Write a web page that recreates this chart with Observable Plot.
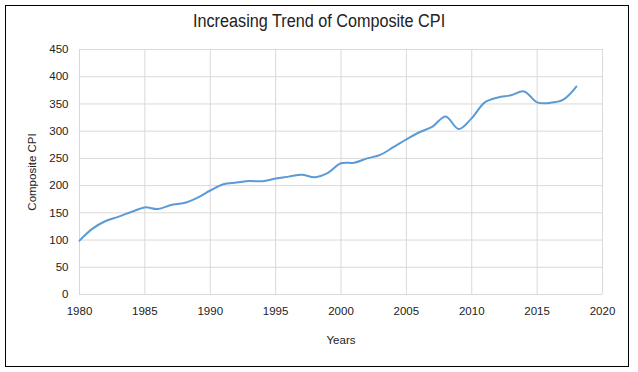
<!DOCTYPE html>
<html><head><meta charset="utf-8">
<script src="https://cdn.jsdelivr.net/npm/d3@7"></script>
<script src="https://cdn.jsdelivr.net/npm/@observablehq/plot@0.6"></script>
<style>
body{margin:0;background:#fff;}
#wrap{position:relative;width:638px;height:372px;overflow:hidden;background:#fff;}
#chart{position:absolute;left:0;top:0;}
#frame{position:absolute;left:5px;top:5px;width:622px;height:360px;border:1px solid #000;pointer-events:none;}
#title{position:absolute;left:0;width:638px;top:11px;text-align:center;font-family:"Liberation Sans",sans-serif;font-size:18px;color:#222;}
#title span{display:inline-block;transform:scaleX(0.9);transform-origin:center;}
</style></head>
<body>
<div id="wrap"><div id="chart"></div><div id="frame"></div><div id="title"><span>Increasing Trend of Composite CPI</span></div></div>
<script>
const years = [1980,1981,1982,1983,1984,1985,1986,1987,1988,1989,1990,1991,1992,1993,1994,1995,1996,1997,1998,1999,2000,2001,2002,2003,2004,2005,2006,2007,2008,2009,2010,2011,2012,2013,2014,2015,2016,2017,2018];
const cpi = [99,121,135,143,152,160,157,164.5,168,177.5,191,202.5,205.5,208.5,208,213,216.5,220,215.5,223.5,241,242,250,256.5,270.5,285,298,308.5,327,304,324,353,362,366,373,353,352,358,382];
const xTicks = [1980,1985,1990,1995,2000,2005,2010,2015,2020];
const yTicks = [0,50,100,150,200,250,300,350,400,450];

const data = years.map((y,i)=>({year:y, cpi:cpi[i]}));

const chart = Plot.plot({
  width: 638,
  height: 372,
  marginLeft: 79,
  marginRight: 36,
  marginTop: 49,
  marginBottom: 78,
  style: {fontFamily: "'Liberation Sans', Arial, sans-serif", fontSize: "11.5px", color: "#222", background: "transparent"},
  x: {domain: [1980, 2020]},
  y: {domain: [0, 450]},
  marks: [
    Plot.gridY({ticks: yTicks, stroke: "#d9d9d9", strokeOpacity: 1, strokeWidth: 1}),
    Plot.gridX({ticks: xTicks, stroke: "#d9d9d9", strokeOpacity: 1, strokeWidth: 1}),
    Plot.axisY({ticks: yTicks, tickSize: 0, tickPadding: 11, label: "Composite CPI", labelAnchor: "center", labelArrow: "none", labelOffset: 52}),
    Plot.axisX({ticks: xTicks, tickSize: 0, tickPadding: 12, tickFormat: d => String(d), label: "Years", labelAnchor: "center", labelArrow: "none", labelOffset: 49}),
    Plot.line(data, {x: "year", y: "cpi", curve: "catmull-rom", stroke: "#5b9bd5", strokeWidth: 2})
  ]
});
document.getElementById("chart").appendChild(chart);
</script>
</body></html>
